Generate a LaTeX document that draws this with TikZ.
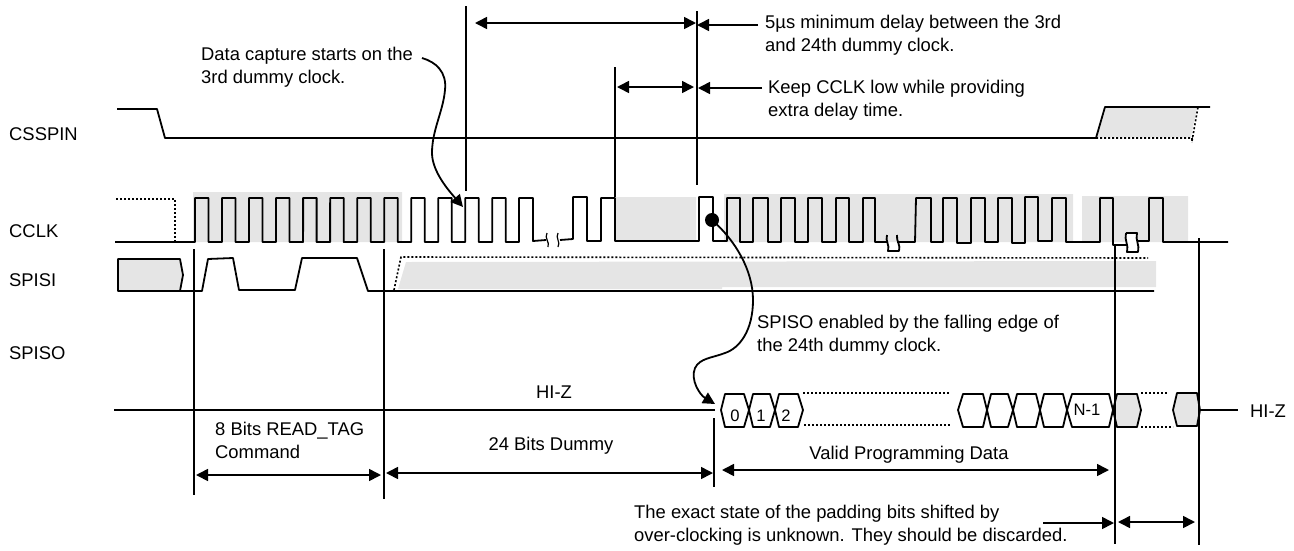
\documentclass[tikz,border=0pt]{standalone}
\usepackage{fontspec}
\setmainfont{Liberation Sans}
\usetikzlibrary{arrows.meta}
\definecolor{padgrey}{HTML}{E5E5E5}
\tikzset{
	wave/.style={line width=1.8pt},
	dots/.style={line width=1.6pt,dash pattern=on 2pt off 2pt},
	marker/.style={line width=1.6pt},
	txt/.style={anchor=west,inner sep=0pt,align=left,font=\fontsize{18.4}{23}\selectfont},
	bitnum/.style={inner sep=0pt,font=\fontsize{16.6}{20}\selectfont},
	bit/.style={wave,fill=white},
	padbit/.style={wave,fill=padgrey}
}
\begin{document}
\begin{tikzpicture}[>={Triangle[length=12pt,width=12pt]},line join=round,x=1pt,y=-1pt]
	\useasboundingbox (0,0) rectangle (1294,550);
	% grey areas
	\fill[padgrey] (193,192) rectangle (402,242) (615,197) rectangle (696,241) (724,194) rectangle (1073,242) (1082,196) rectangle (1188,242);
	\fill[padgrey] (1097,137)--(1106,108)--(1197,108)--(1191,137)--cycle;
	\fill[padgrey] (398,289)--(406,262)--(1156,261)--(1156,287)--(722,287)--(722,289)--cycle;
	% signal names
	\node[txt] (csspin) at (9,134) {CSSPIN};
	\node[txt] (cclk) at (9,231) {CCLK};
	\node[txt] (spisi) at (9,280) {SPISI};
	\node[txt] (spiso) at (9,353) {SPISO};
	% CSSPIN
	\draw[wave] (117,109)--(157,109)--(165,138)--(1096,138)--(1105,107)--(1210,107);
	\draw[dots] (1096,138)--(1192,138)--(1192,142) (1192,141)--(1198,107);
	% CCLK
	\draw[dots] (116,199)--(175,199)--(175,242);
	\draw[wave] (115,242)--(195,242)
		\foreach \i in {0,...,11} {--({195+27.03*\i},198)--({208.5+27.03*\i},198)--({208.5+27.03*\i},242)--({222+27.03*\i},242)}
		(519,242)--(519,198)--(533,198)--(533,241)--(546,240) (560,240)--(573,239)--(573,197)--(587,197)--(587,241)--(601,241)--(601,198)--(615,198)--(615,241)--(699,241)--(699,197)--(713,197)--(713,241)--(727,241)--(727,198)--(740,198)--(740,242)--(753,242)--(753,198)--(768,198)--(768,242)--(781,242)--(781,198)--(795,198)--(795,242)--(808,242)--(808,198)--(822,198)--(822,242)--(836,242)--(836,198)--(849,198)--(849,242)--(863,242)--(863,198)--(875,198)--(875,242)--(887,242) (897,242)--(915,242)--(916,198)--(931,198)--(931,242)--(943,242)--(943,198)--(957,198)--(957,243)--(971,243)--(971,198)--(985,198)--(985,242)--(998,242)--(998,198)--(1012,198)--(1012,243)--(1025,243)--(1025,197)--(1038,197)--(1038,241)--(1052,241)--(1052,198)--(1066,198)--(1066,242)--(1100,242)--(1100,198)--(1113,198)--(1113,245)--(1126,245) (1137,241)--(1149,241)--(1149,198)--(1163,198)--(1163,242)--(1228,242);
	% clock breaks
	\draw[line width=1.2pt] (547,233) .. controls (544,238) and (550,242) .. (548,247) (558,233) .. controls (555,238) and (561,242) .. (558,247);
	\draw[wave] (887,235) .. controls (885,241) and (890,245) .. (888,251)--(899,251) .. controls (901,245) and (896,241) .. (897,235);
	\draw[wave,fill=white] (1126,233)--(1137,233) .. controls (1135,240) and (1140,245) .. (1138,252)--(1127,252) .. controls (1129,245) and (1124,240) .. (1126,233);
	% SPISI
	\draw[wave,fill=padgrey] (118,259)--(180,259)--(183,275)--(180,291)--(118,291)--cycle;
	\draw[wave] (180,291)--(202,291)--(208,259)--(233,258)--(239,290)--(295,290)--(302,258)--(357,258)--(368,291)--(1154,291);
	\draw[dots] (394,290)--(401,257)--(1148,258);
	% SPISO
	\draw[wave] (114,410)--(715,410) (1200,410)--(1238,410);
	\foreach \xa/\xb/\xc/\xd in {721/725/744/749,749/753/770/775,775/779/798/803,958/963/983/987,987/991/1008/1013,1013/1017/1036/1040,1040/1044/1063/1067,1067/1072/1109/1113}
		\draw[bit] (\xa,410)--(\xb,394)--(\xc,394)--(\xd,410)--(\xc,427)--(\xb,427)--cycle;
	\draw[padbit] (1113,410)--(1117,394)--(1137,394)--(1141,410)--(1137,427)--(1117,427)--cycle;
	\draw[padbit] (1173,410)--(1177,393)--(1197,393)--(1200,410)--(1197,426)--(1177,426)--cycle;
	\draw[dots] (803,393)--(949,393) (804,425)--(950,425) (1141,393)--(1168,393) (1141,427)--(1173,427);
	\node[bitnum] (bit0) at (735,416) {0};
	\node[bitnum] (bit1) at (761,416) {1};
	\node[bitnum] (bit2) at (786,416) {2};
	\node[bitnum] (bitlast) at (1087,410) {N-1};
	\node[txt,anchor=center] (hiza) at (554,392) {HI-Z};
	\node[txt] (hizb) at (1250,411) {HI-Z};
	% marker lines
	\draw[marker] (466,6)--(466,191) (615,67)--(615,197) (697,11)--(697,185) (194,249)--(194,495) (384,249)--(384,499) (714,418)--(714,487) (1115,245)--(1115,544) (1199,238)--(1199,545);
	% notes
	\node[txt] (notecapture) at (201,67) {Data capture starts on the\\3rd dummy clock.};
	\node[txt] (notedelay) at (765,35) {5µs minimum delay between the 3rd\\and 24th dummy clock.};
	\node[txt] (notelow) at (768,100) {Keep CCLK low while providing\\extra delay time.};
	\node[txt] (noteenable) at (757,335.5) {SPISO enabled by the falling edge of\\the 24th dummy clock.};
	\node[txt] (notepad) at (634,525.5) {The exact state of the padding bits shifted by\\over-clocking is unknown. They should be discarded.};
	\node[txt] (readtag) at (215,440) {8 Bits READ\_TAG\\Command};
	\node[txt,anchor=center] (dummy) at (551,446) {24 Bits Dummy};
	\node[txt,anchor=center] (valid) at (909,455) {Valid Programming Data};
	% dimension arrows
	\coordinate (delayend) at (758,25);
	\coordinate (lowend) at (762,88);
	\coordinate (padend) at (1043,523);
	\draw[<->,marker] (475,23)--(696,23);
	\draw[<->,marker] (617,87)--(694,87);
	\draw[->,marker] (delayend)--(697,25);
	\draw[->,marker] (lowend)--(698,88);
	\draw[<->,marker] (196,475)--(381,475);
	\draw[<->,marker] (386,473)--(713,473);
	\draw[<->,marker] (722,470)--(1109,470);
	\draw[->,marker] (padend)--(1114,523);
	\draw[<->,marker] (1118,522)--(1195,522);
	% callouts
	\draw[->,wave] (422,58) .. controls (436,62) and (447,72) .. (445,90) .. controls (443,112) and (432,130) .. (432,153) .. controls (432,172) and (450,192) .. (463,207);
	\fill (712,220) circle (7);
	\draw[->,wave] (712,220) .. controls (735,240) and (753,270) .. (753,300) .. controls (753,330) and (740,348) .. (725,353) .. controls (712,358) and (700,358) .. (695,368) .. controls (690,380) and (700,395) .. (715,404);
\end{tikzpicture}
\end{document}
